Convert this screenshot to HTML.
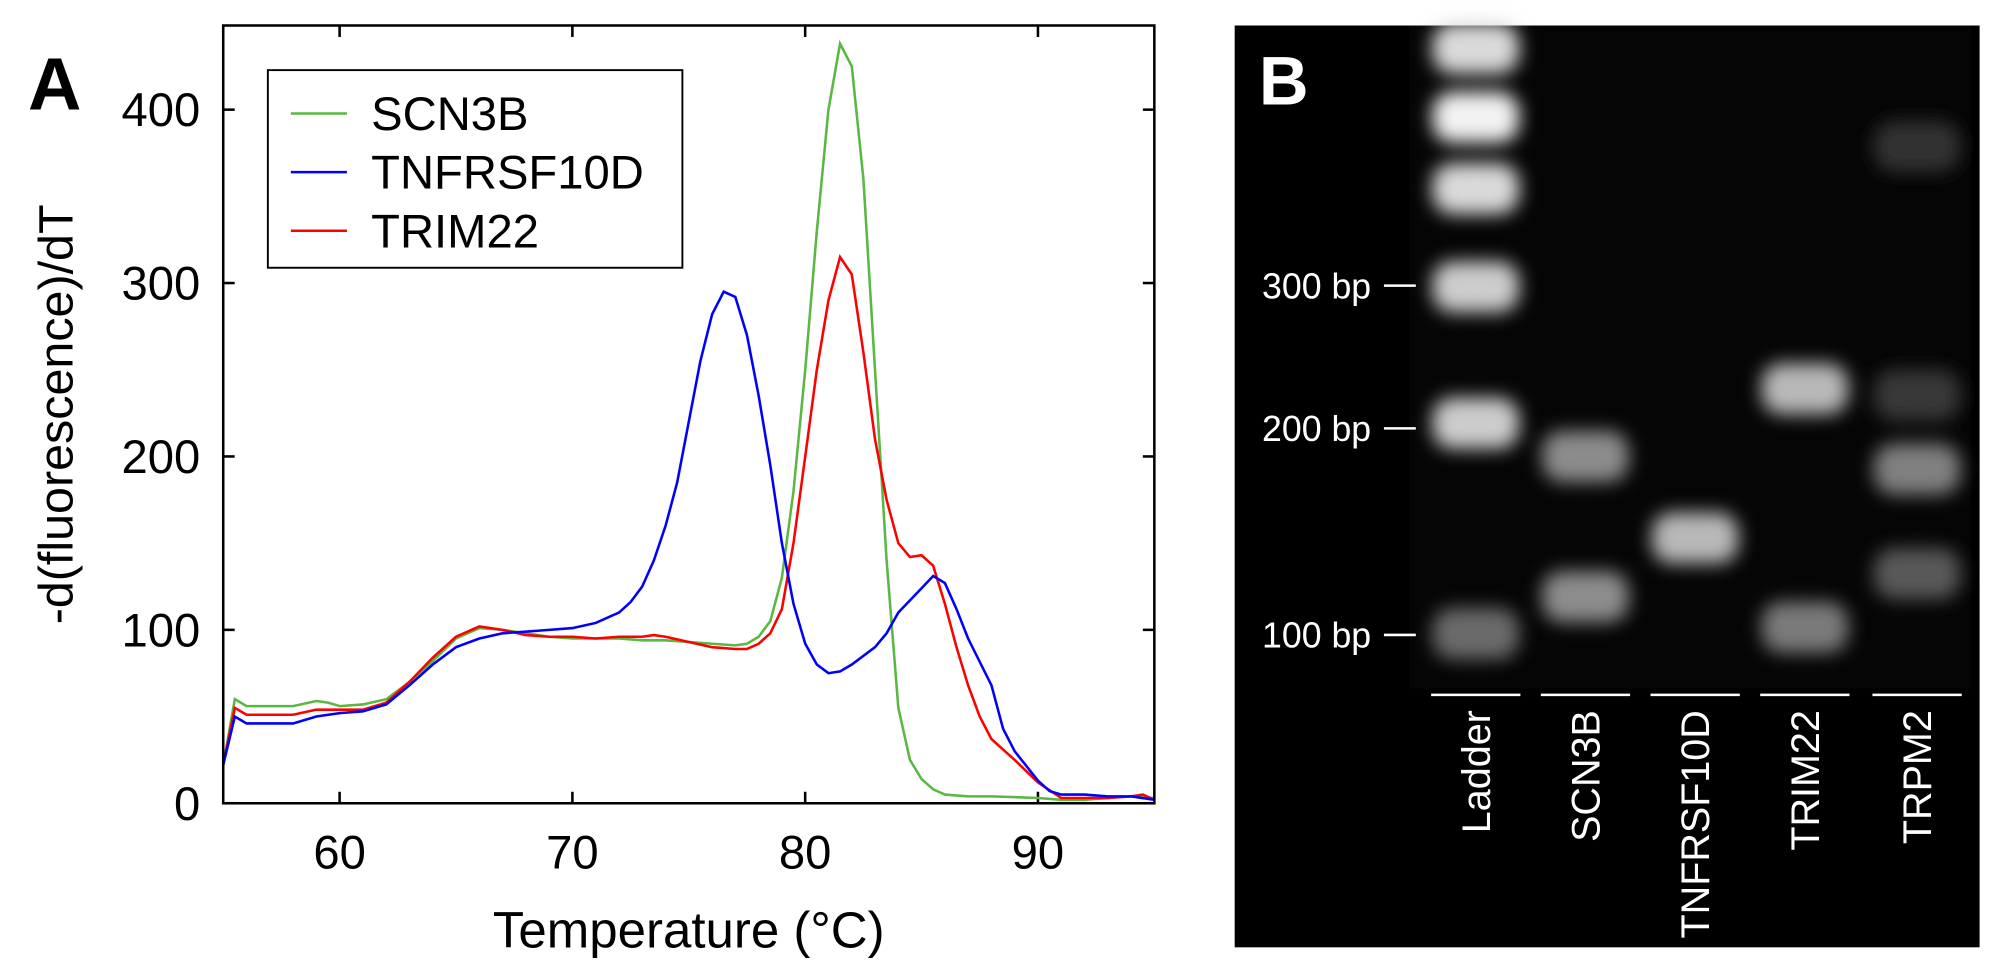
<!DOCTYPE html>
<html><head><meta charset="utf-8"><style>
html,body{margin:0;padding:0;background:#fff;width:2000px;height:969px;overflow:hidden}
svg{display:block}
text{font-family:"Liberation Sans",sans-serif}
</style></head><body>
<svg id="fig" width="2000" height="969" viewBox="0 0 1568 760" preserveAspectRatio="none">
<defs>
<filter id="blur" x="-50%" y="-100%" width="200%" height="300%"><feGaussianBlur stdDeviation="7"/></filter>
</defs>
<g id="panelA">
<text x="22" y="86" font-size="58" font-weight="bold">A</text>
<text transform="translate(57,325) rotate(-90)" text-anchor="middle" font-size="38">-d(fluorescence)/dT</text>
<text x="540" y="743" text-anchor="middle" font-size="40">Temperature (°C)</text>
<g id="axes"></g>
<g id="series"></g>
<rect x="175" y="20" width="730" height="610" fill="none" stroke="#000" stroke-width="2"/>
<g>
<rect x="210" y="55" width="325" height="155" fill="#fff" stroke="#000" stroke-width="1.5"/>
<line x1="228" y1="89" x2="272" y2="89" stroke="#5ab842" stroke-width="2"/>
<text x="291" y="102" font-size="37">SCN3B</text>
<line x1="228" y1="135" x2="272" y2="135" stroke="#0000ff" stroke-width="2"/>
<text x="291" y="148" font-size="37">TNFRSF10D</text>
<line x1="228" y1="181" x2="272" y2="181" stroke="#ff0000" stroke-width="2"/>
<text x="291" y="194" font-size="37">TRIM22</text>
</g>
</g>
<g id="panelB">
<rect x="968" y="20" width="584" height="723" fill="#000"/>
<rect x="1105" y="20" width="440" height="520" fill="#050505"/>
<g id="bands" filter="url(#blur)"></g>
<text x="987" y="82" font-size="54" font-weight="bold" fill="#fff">B</text>
<g id="markers"></g>
<g id="lanes"></g>
</g>
</svg>
<script>
const NS="http://www.w3.org/2000/svg";
const xTicks=[60,70,80,90];
const yTicks=[0,100,200,300,400];
const tG=[55,55.5,56,57,58,59,59.5,60,61,62,63,64,65,66,67,68,69,70,71,72,73,74,75,76,77,77.5,78,78.5,79,79.5,80,80.5,81,81.5,82,82.5,83,83.5,84,84.5,85,85.5,86,87,88,89,90,91,92,93,94,95];
const vG=[22,60,56,56,56,59,58,56,57,60,70,82,95,101,100,98,96,95,95,95,94,94,93,92,91,92,96,105,130,180,250,330,400,438,425,360,250,140,55,25,14,8,5,4,4,3.5,3,2,2,3,4,3];
const tR=[55,55.5,56,57,58,59,60,61,62,63,64,65,66,67,68,69,70,71,72,73,73.5,74,75,76,77,77.5,78,78.5,79,79.5,80,80.5,81,81.5,82,82.5,83,83.5,84,84.5,85,85.5,86,86.5,87,87.5,88,89,90,91,92,93,94,94.5,95];
const vR=[22,55,51,51,51,54,54,54,58,70,84,96,102,100,97,96,96,95,96,96,97,96,93,90,89,89,92,98,112,150,200,250,290,315,305,260,210,175,150,142,143,137,115,90,68,50,37,25,12,3,3,3,4,5,2];
const tB=[55,55.5,56,57,58,59,60,61,62,63,64,65,66,67,68,69,70,71,72,72.5,73,73.5,74,74.5,75,75.5,76,76.5,77,77.5,78,78.5,79,79.5,80,80.5,81,81.5,82,83,83.5,84,85,85.5,86,86.5,87,88,88.5,89,90,90.5,91,92,93,94,95];
const vB=[22,50,46,46,46,50,52,53,57,68,80,90,95,98,99,100,101,104,110,116,125,140,160,185,220,255,282,295,292,270,235,195,150,115,92,80,75,76,80,90,98,110,124,131,127,112,95,68,43,30,13,7,5,5,4,4,2];
const sx=t=>175+(t-55)*(730/40);
const sy=v=>630-v*1.36;
const ax=document.getElementById('axes');
function mk(tag,attrs,parent){const e=document.createElementNS(NS,tag);for(const k in attrs)e.setAttribute(k,attrs[k]);parent.appendChild(e);return e;}
xTicks.forEach(t=>{
 const x=sx(t);
 let l=mk('line',{x1:x,y1:630,x2:x,y2:621,stroke:'#000','stroke-width':2},ax);
 
 
 let l2=mk('line',{x1:x,y1:20,x2:x,y2:29,stroke:'#000','stroke-width':2},ax);
 
 
 let tx=mk('text',{x:x,y:681,'text-anchor':'middle','font-size':37},ax);tx.textContent=t;
 
 
});
yTicks.forEach(v=>{
 const y=sy(v);
 let l=mk('line',{x1:175,y1:y,x2:184,y2:y,stroke:'#000','stroke-width':2},ax);
 
 
 let l2=mk('line',{x1:905,y1:y,x2:896,y2:y,stroke:'#000','stroke-width':2},ax);
 
 
 let tx=mk('text',{x:157,y:y+13,'text-anchor':'end','font-size':37},ax);tx.textContent=v;
 
 
});
const sg=document.getElementById('series');
function line(ts,vs,col,name){
 const d=ts.map((t,i)=>(i?'L':'M')+sx(t).toFixed(1)+','+sy(vs[i]).toFixed(1)).join('');
 const p=mk('path',{d:d,fill:'none',stroke:col,'stroke-width':2},sg);
 
 
}
line(tG,vG,'#5ab842','series-scn3b');
line(tR,vR,'#ff0000','series-trim22');
line(tB,vB,'#0000ff','series-tnfrsf10d');
// gel
const laneX=[1157,1243,1329,1415,1503];
const laneNames=['Ladder','SCN3B','TNFRSF10D','TRIM22','TRPM2'];
const bandLane=[0,0,0,0,0,0,1,1,2,3,3,4,4,4,4];
const bandY=[38,92,148,225,332,497,358,468,422,305,492,115,310,368,450];
const bandI=[0.85,0.95,0.85,0.8,0.8,0.42,0.55,0.55,0.72,0.72,0.48,0.2,0.22,0.5,0.35];
const bg=document.getElementById('bands');
bandLane.forEach((ln,i)=>{
 const c=Math.round(255*bandI[i]);
 const r=mk('rect',{x:laneX[ln]-34,y:bandY[i]-20,width:68,height:40,rx:16,fill:`rgb(${c},${c},${c})`},bg);
 
 
});
const mg=document.getElementById('markers');
const markerLabels=['300 bp','200 bp','100 bp'];
const markerY=[224,336,498];
markerLabels.forEach((s,i)=>{
 const t=mk('text',{x:1075,y:markerY[i]+10,'text-anchor':'end','font-size':28,fill:'#fff'},mg);t.textContent=s;
 
 
 const l=mk('line',{x1:1085,y1:markerY[i],x2:1110,y2:markerY[i],stroke:'#fff','stroke-width':2},mg);
 
 
});
const lg=document.getElementById('lanes');
laneNames.forEach((s,i)=>{
 const x=laneX[i];
 const l=mk('line',{x1:x-35,y1:545,x2:x+35,y2:545,stroke:'#fff','stroke-width':2},lg);
 
 
 const t=mk('text',{transform:`translate(${x+11},557) rotate(-90)`,'text-anchor':'end','font-size':31,fill:'#fff'},lg);t.textContent=s;
 
 
});
</script>
</body></html>
